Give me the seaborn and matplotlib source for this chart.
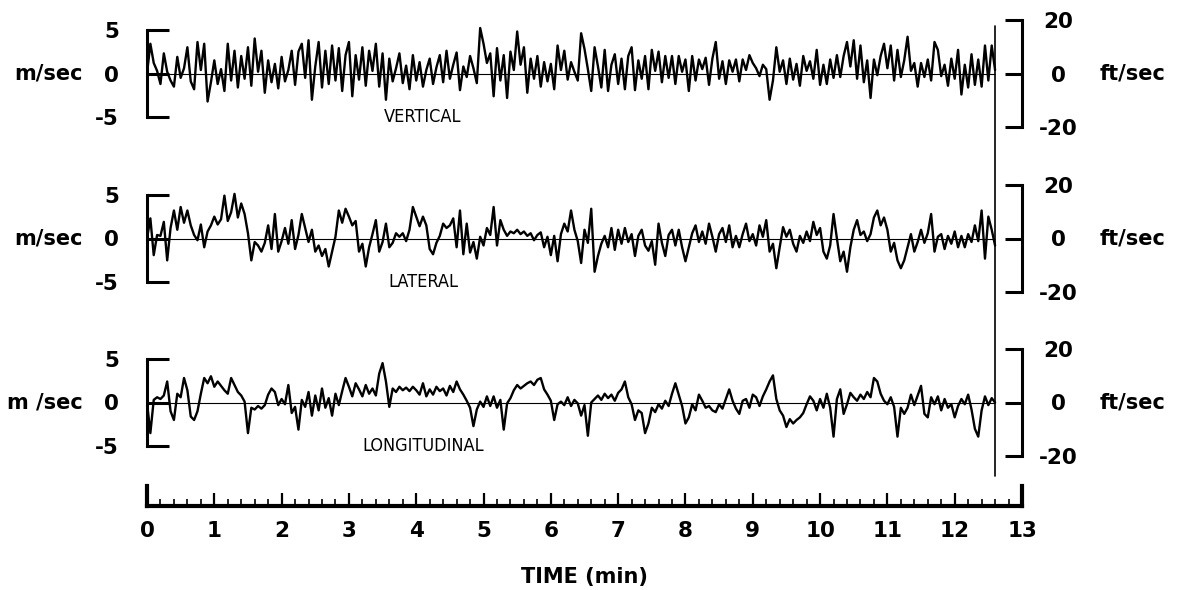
import numpy as np
import pandas as pd
import matplotlib
matplotlib.use("Agg")
import matplotlib.pyplot as plt
import matplotlib.transforms as mtransforms
from matplotlib.lines import Line2D
from matplotlib.ticker import MultipleLocator
import seaborn as sns

# ---------------- data (m/sec, one sample every 0.05 min) -------------
SAMPLE_STEP_MIN = 0.05

vertical_ms = [
    0.0, 3.4, 1.2, 0.3, -1.2, 2.3, 0.2, -0.8, -1.5, 1.9, -0.5, 0.6, 3.0, -0.9, -1.8, 3.6, 0.4, 3.4, -3.2, -1.0,
    1.5, -1.2, 0.5, -2.0, 3.4, -0.8, 2.6, -1.6, 2.0, -0.6, 3.0, -1.4, 4.0, 0.2, 2.6, -2.2, 1.5, -1.0, 1.1, -1.7,
    1.9, -0.9, 0.4, 2.6, -1.3, 2.5, 3.4, -0.5, 3.8, -3.0, 0.8, 3.6, -1.6, 2.6, -1.2, 3.2, -0.8, 2.9, -2.0, 2.1,
    3.6, -2.6, 2.1, -0.7, 3.0, -1.4, 2.6, 0.3, 3.4, -1.5, 2.3, -3.0, 1.7, -0.9, 0.6, 2.3, -1.1, 0.9, -1.8, 2.1,
    -0.8, 1.3, -1.5, 0.4, 1.7, -1.2, 0.7, 2.1, -1.0, 2.6, -0.6, 1.0, 2.4, -1.9, 0.8, -0.4, 2.0, 0.6, -1.1, 5.2,
    3.4, 1.2, 2.3, -2.6, 2.9, -0.8, 2.1, -2.8, 2.5, 0.4, 4.8, 1.0, 3.0, -2.2, 1.7, -0.6, 2.0, -1.5, 1.3, -0.9,
    1.1, -1.8, 3.2, 0.4, 2.6, -0.7, 1.3, 0.2, -0.8, 4.6, 2.8, 0.5, -2.0, 3.0, 0.8, -1.6, 2.7, -2.0, 1.0, 2.2,
    -1.2, 1.7, -1.8, 2.0, 3.0, -1.9, 1.5, -0.6, 2.0, -1.8, 2.7, 0.3, 2.5, -1.0, 2.0, -0.5, 2.0, -1.2, 2.0, 0.2,
    1.6, -2.0, 2.0, -0.8, 1.6, 0.5, 1.8, -1.3, 1.7, 3.6, -0.6, 1.4, -1.2, 1.5, 0.2, 1.6, -0.9, 1.6, 0.4, 2.1,
    1.2, 0.6, -0.3, 1.0, 0.5, -3.0, -0.8, 3.0, 0.2, 1.5, -1.2, 1.7, -0.7, 1.1, -1.4, 2.0, 0.3, 1.4, -0.6, 2.7,
    -1.3, 1.0, -1.2, 1.6, -0.5, 2.1, -0.4, 2.0, 3.6, 0.8, 3.8, -0.6, 3.2, -1.0, 1.5, -2.8, 1.6, -0.2, 2.0, 3.4,
    0.6, 3.2, -0.8, 2.7, -0.4, 1.5, 4.2, 0.3, 1.2, -1.5, 1.2, -0.4, 1.6, -0.8, 3.6, 2.7, -0.3, 1.0, -1.4, 1.7,
    -0.6, 2.7, -2.4, 1.0, -1.6, 2.2, -1.3, 1.6, -1.5, 3.2, -0.8, 3.2, 0.4,
]

lateral_ms = [
    0.0, 2.3, -1.9, 0.4, 0.3, 1.9, -2.5, 1.2, 3.2, 1.0, 3.6, 1.8, 3.2, 1.5, 0.4, -0.2, 1.6, -1.0, 0.8, 1.5,
    2.5, 1.6, 2.2, 4.9, 2.0, 3.0, 5.1, 2.4, 4.0, 2.8, 0.6, -2.5, -0.4, -0.8, -1.5, -0.5, 1.5, -1.2, 2.8, -1.5,
    -0.3, 1.2, -0.6, 2.1, -1.2, 0.4, 2.8, 1.2, -0.4, 1.0, -1.5, -0.8, -2.0, -1.2, -3.2, -1.5, 0.2, 3.2, 1.8, 3.4,
    2.5, 1.5, 2.0, -1.5, -0.6, -3.2, -1.0, 0.5, 2.1, -1.5, -0.4, 1.7, -1.0, -0.5, 0.6, 0.2, 0.6, -0.3, 1.0, 3.6,
    2.5, 1.4, 2.5, 1.5, -1.2, -1.8, -0.5, 0.3, 1.7, 1.2, 1.5, 2.3, -1.0, 3.2, -1.8, 1.7, -1.6, -0.4, -2.3, 0.2,
    -0.8, 1.2, 0.4, 3.6, -0.8, 2.1, 1.0, 0.3, 0.8, 0.6, 1.0, 0.5, 0.8, 0.3, 0.6, -0.2, 0.4, 0.7, -1.0, 0.2,
    -1.9, 0.3, -2.6, 0.5, 1.7, 0.8, 3.2, 1.0, -0.3, -2.8, 1.0, -0.5, 3.4, -3.8, -2.0, -0.6, 0.3, -1.0, 1.2, -1.3,
    1.0, -0.6, 1.2, -0.4, 0.5, -2.0, 0.3, 1.0, -0.8, -1.4, -0.3, -3.0, 1.7, -0.5, -2.0, 0.4, 1.0, -0.8, 1.0, -1.0,
    -2.6, -1.0, 0.6, 1.5, -0.4, 0.8, -0.6, 1.7, 0.2, -1.5, 0.5, 1.2, -0.4, 1.5, -1.0, 0.3, -1.0, 0.5, 1.7, -0.3,
    0.5, -0.8, 1.5, 0.2, 2.1, -1.5, -0.6, -3.4, -1.0, 1.3, 0.2, 1.0, -0.6, -1.5, 0.3, -0.5, 0.8, -0.3, 1.9, 0.4,
    1.2, -1.5, -2.3, -0.8, 2.8, 0.0, -2.6, -1.5, -3.8, -1.0, 1.0, 2.1, 0.4, 0.8, -0.3, 0.5, 2.4, 3.2, 1.5, 2.4,
    1.0, -1.5, -0.5, -2.5, -3.4, -2.5, -1.0, 0.5, -1.5, -0.4, 1.0, -0.5, 0.6, 2.8, -1.5, 0.2, 0.5, -1.2, 0.3, -0.6,
    0.8, -1.0, 0.3, -1.0, 0.5, -0.4, 1.5, -0.3, 3.2, -2.3, 2.5, 1.0, -0.8,
]

longitudinal_ms = [
    0.0, -3.5, 0.3, 0.6, 0.4, 0.8, 2.4, -1.0, -2.0, 1.0, 0.6, 2.8, 1.4, -1.6, -2.0, -1.0, 1.0, 2.8, 2.2, 3.0,
    1.8, 2.4, 1.9, 1.4, 1.0, 2.8, 2.0, 1.2, 0.8, 0.1, -3.5, -0.6, -0.8, -0.4, -0.7, -0.3, 0.9, 1.6, 1.2, -0.3,
    0.4, -0.2, 2.0, -1.2, -0.5, -3.1, 0.3, -0.5, 1.2, -1.5, 0.8, -0.9, 1.6, -0.6, 0.5, -1.5, 1.0, -0.3, 1.3, 2.8,
    1.8, 0.7, 2.2, 1.5, 0.7, 2.0, 1.0, 1.6, 0.8, 3.3, 4.5, 2.4, -0.5, 1.6, 1.2, 1.8, 1.4, 1.7, 1.3, 1.8,
    1.4, 0.9, 2.2, 0.7, 1.5, 0.9, 1.8, 1.3, 1.6, 0.8, 1.9, 1.2, 2.4, 1.5, 0.9, 0.2, -0.6, -2.7, -0.8, 0.1,
    -0.5, 0.7, -0.4, 0.7, -0.6, 0.3, -3.1, -0.1, 0.5, 1.4, 2.0, 1.6, 1.9, 2.2, 2.4, 2.0, 2.6, 2.8, 1.5, 0.9,
    0.2, -2.0, -0.2, 0.1, -0.3, 0.6, -0.4, 0.3, -0.1, -1.5, -0.3, -3.8, 0.0, 0.4, 0.8, 0.3, 1.0, 0.5, 0.9, 0.2,
    1.1, 1.5, 2.4, 0.6, -0.2, -2.0, -0.9, -1.2, -3.5, -2.4, -0.6, -1.1, -0.2, -0.7, 0.2, -0.4, 1.0, 2.2, 0.9, -0.4,
    -2.4, -1.7, -0.2, -0.9, 0.9, 0.2, -0.6, -0.4, -0.9, -1.1, -0.2, -0.7, 0.4, 1.5, 0.2, -0.7, -1.3, 0.2, 0.4, -0.6,
    0.9, 0.6, -0.4, 0.7, 1.5, 2.4, 3.1, 0.4, -0.9, -1.5, -2.8, -1.9, -2.4, -2.0, -1.7, -1.2, -0.2, 0.7, 0.2, -0.9,
    0.4, -0.6, 1.0, -0.6, -3.9, 0.4, 1.5, -1.3, -0.2, 1.1, 0.6, 0.2, 0.9, 0.4, 1.2, 0.6, 2.8, 2.4, 1.0, 0.2,
    -0.2, 0.6, -0.5, -3.9, -0.6, -1.3, -0.6, 0.9, -0.3, 0.8, 1.9, -1.3, -1.7, 0.6, -0.2, 0.7, -0.9, 0.4, -0.6, -0.2,
    -1.7, -0.4, 0.4, -0.2, 0.9, -0.8, -3.0, -3.9, -0.9, 0.7, -0.3, 0.5, 0.0,
]

panel_names = ["VERTICAL", "LATERAL", "LONGITUDINAL"]
unit_left = ["m/sec", "m/sec", "m /sec"]
unit_right = "ft/sec"
left_ticks = [-5, 0, 5]
left_ticklabels = ["-5", "0", "5"]
right_ticks = [-20, 0, 20]
right_ticklabels = ["-20", "0", "20"]
time_major_ticks = list(range(0, 14))
time_minor_step = 0.2
x_label = "TIME (min)"
M_TO_FT = 3.28084

# ---------------- style ----------------
sns.set_style("white")
plt.rcParams["font.family"] = ["DejaVu Sans"]
plt.rcParams["font.weight"] = "bold"
plt.rcParams["text.color"] = "black"
plt.rcParams["axes.labelcolor"] = "black"
plt.rcParams["xtick.color"] = "black"
plt.rcParams["ytick.color"] = "black"

W, H = 1180, 590
fig = plt.figure(figsize=(W / 100, H / 100), dpi=100)
PT = 0.72  # points per pixel at 100 dpi


def fx(px):
    return px / W


def fy(py_top):
    return 1 - py_top / H


X0_PX, X13_PX = 147, 1022
PX_PER_MS = 8.75
YLIM = 7.0
panel_centers_px = [73.5, 238.5, 402.5]
TICK_FS = 15.5
UNIT_FS = 15

axes = []
series = [vertical_ms, lateral_ms, longitudinal_ms]
for i, vals in enumerate(series):
    c = panel_centers_px[i]
    half = YLIM * PX_PER_MS
    ax = fig.add_axes([fx(X0_PX), fy(c + half), fx(X13_PX - X0_PX), 2 * half / H])
    t = np.arange(len(vals)) * SAMPLE_STEP_MIN
    df = pd.DataFrame({"t": t, "v": vals})
    sns.lineplot(data=df, x="t", y="v", ax=ax, color="black", lw=1.7,
                 estimator=None, legend=False)
    ax.hlines(0, t[0], t[-1], color="black", lw=0.8)
    ax.set_xlim(0, 13)
    ax.set_ylim(-YLIM, YLIM)
    ax.set_xlabel("")
    ax.set_ylabel("")
    ax.set_xticks([])
    for s in ["top", "bottom", "right"]:
        ax.spines[s].set_visible(False)
    ax.spines["left"].set_bounds(-5, 5)
    ax.spines["left"].set_linewidth(2.2)
    ax.spines["left"].set_color("black")
    ax.set_yticks(left_ticks)
    ax.set_yticklabels(left_ticklabels)
    ax.tick_params(axis="y", left=True, direction="in", length=22 * PT, width=2.2,
                   pad=28 * PT, labelsize=TICK_FS, colors="black")
    ax.annotate(unit_left[i], xy=(0, 0), xycoords=("axes fraction", "data"),
                xytext=(-64 * PT, 0), textcoords="offset points", color="black",
                ha="right", va="center", fontsize=UNIT_FS, fontweight="bold")
    ax.text(4.1, -5.0, panel_names[i], ha="center", va="center", fontsize=13,
            color="black", fontweight="normal", family="DejaVu Sans",
            stretch="condensed")
    ax.patch.set_visible(False)

    ax2 = ax.twinx()
    ax2.set_ylim(-YLIM * M_TO_FT, YLIM * M_TO_FT)
    for s in ["top", "bottom", "left"]:
        ax2.spines[s].set_visible(False)
    ax2.spines["right"].set_bounds(-20, 20)
    ax2.spines["right"].set_linewidth(2.2)
    ax2.spines["right"].set_color("black")
    ax2.set_yticks(right_ticks)
    ax2.set_yticklabels(right_ticklabels)
    ax2.tick_params(axis="y", right=True, direction="in", length=17 * PT, width=2.2,
                    pad=36 * PT, labelsize=TICK_FS, colors="black")
    for lbl in ax2.get_yticklabels():
        lbl.set_ha("center")
    ax2.annotate(unit_right, xy=(1, 0), xycoords=("axes fraction", "data"),
                 xytext=(78 * PT, 0), textcoords="offset points", color="black",
                 ha="left", va="center", fontsize=UNIT_FS, fontweight="bold")
    axes.append(ax)

# vertical line marking end of record, across all panels
t_end = (len(vertical_ms) - 1) * SAMPLE_STEP_MIN
trans = mtransforms.blended_transform_factory(axes[0].transData, fig.transFigure)
fig.add_artist(Line2D([t_end, t_end], [fy(26), fy(476)], transform=trans,
                      color="black", lw=1.2))

# ---------------- time ruler ----------------
RULER_BASE_PX = 506
axr = fig.add_axes([fx(X0_PX), fy(RULER_BASE_PX), fx(X13_PX - X0_PX), 30 / H])
axr.set_xlim(0, 13)
axr.set_ylim(0, 1)
axr.patch.set_visible(False)
axr.spines["top"].set_visible(False)
for s in ["left", "right"]:
    axr.spines[s].set_bounds(0, 0.68)
    axr.spines[s].set_linewidth(3)
axr.spines["bottom"].set_linewidth(3)
for s in ["left", "right", "bottom"]:
    axr.spines[s].set_color("black")
axr.set_yticks([])
axr.set_xticks(time_major_ticks)
axr.set_xticklabels([str(v) for v in time_major_ticks])
axr.xaxis.set_minor_locator(MultipleLocator(time_minor_step))
axr.tick_params(axis="x", which="major", bottom=True, direction="in", length=13 * PT,
                width=1.6, pad=15 * PT, labelsize=TICK_FS, colors="black")
axr.tick_params(axis="x", which="minor", bottom=True, direction="in", length=7 * PT,
                width=1.2, colors="black")
axr.set_xlabel(x_label, fontsize=15, fontweight="bold", labelpad=26 * PT, color="black")

fig.savefig("out.png", dpi=100, facecolor="white")
